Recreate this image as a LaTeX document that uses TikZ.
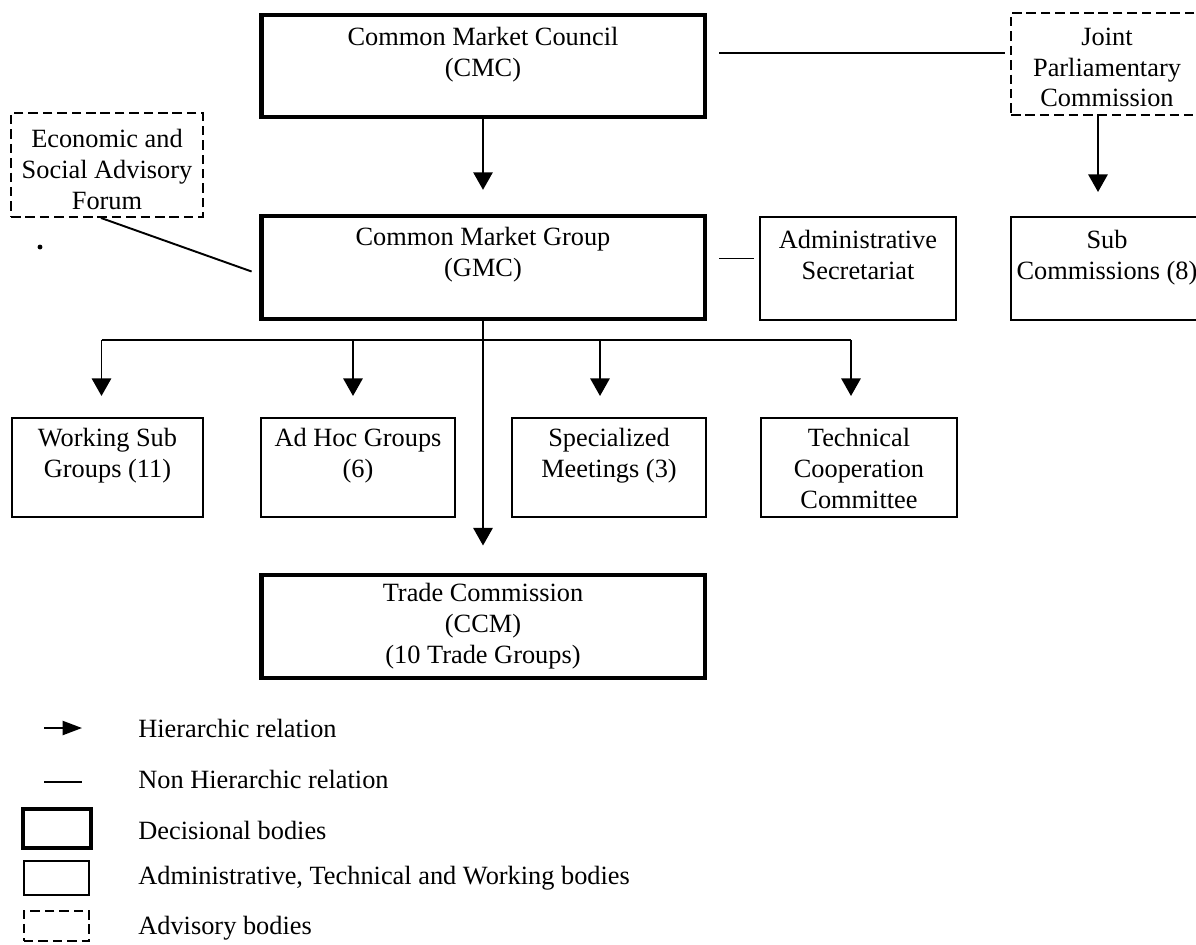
\documentclass[tikz,border=0pt]{standalone}
\usepackage{fontspec}
\setmainfont{Liberation Serif}
\usetikzlibrary{arrows.meta, positioning}

\tikzset{
  body/.style={draw, line width=1.1pt, inner sep=0pt},
  decbody/.style={body, line width=2.8pt},
  advbody/.style={body, dash pattern=on 5.4pt off 2.8pt},
  lbl/.style={inner sep=0pt, align=center, font=\fontsize{15pt}{17.6pt}\selectfont},
  hier/.style={line width=1.1pt, -{Triangle[length=10pt, width=11pt]}},
  nonhier/.style={line width=1.1pt},
}

\begin{document}
\begin{tikzpicture}[x=0.02cm, y=-0.02cm]
  \useasboundingbox (0,0) rectangle (1196,944);
  \clip (0,0) rectangle (1196,944);

  %% Decisional bodies
  \node[decbody, minimum width=8.88cm, minimum height=2.04cm] (cmc) at (483,66) {};
  \node[lbl, below=8pt of cmc.north] (cmc-t) {Common Market Council\\(CMC)};
  \node[decbody, minimum width=8.88cm, minimum height=2.06cm] (gmc) at (483,267.5) {};
  \node[lbl, below=7.5pt of gmc.north] (gmc-t) {Common Market Group\\(GMC)};
  \node[decbody, minimum width=8.88cm, minimum height=2.06cm] (ccm) at (483,626.5) {};
  \node[lbl, below=6pt of ccm.north] (ccm-t) {Trade Commission\\(CCM)\\(10 Trade Groups)};

  %% Advisory bodies
  \node[advbody, minimum width=3.84cm, minimum height=2.04cm] (jpc) at (1107,64) {};
  \node[lbl, below=8.7pt of jpc.north] (jpc-t) {Joint\\Parliamentary\\Commission};
  \node[advbody, minimum width=3.84cm, minimum height=2.08cm] (esf) at (107,165) {};
  \node[lbl, below=9.5pt of esf.north] (esf-t) {Economic and\\Social Advisory\\Forum};
  \fill (40,247) circle (1.4pt);

  %% Administrative, technical and working bodies
  \node[body, minimum width=3.92cm, minimum height=2.06cm] (sec) at (858,268.5) {};
  \node[lbl, below=8pt of sec.north] (sec-t) {Administrative\\Secretariat};
  \node[body, minimum width=3.84cm, minimum height=2.06cm] (sub) at (1107,268.5) {};
  \node[lbl, below=8pt of sub.north] (sub-t) {Sub\\Commissions (8)};
  \node[body, minimum width=3.82cm, minimum height=1.98cm] (wsg) at (107.5,467.5) {};
  \node[lbl, below=6pt of wsg.north] (wsg-t) {Working Sub\\Groups (11)};
  \node[body, minimum width=3.88cm, minimum height=1.98cm] (ahg) at (358,467.5) {};
  \node[lbl, below=6pt of ahg.north] (ahg-t) {Ad Hoc Groups\\(6)};
  \node[body, minimum width=3.88cm, minimum height=1.98cm] (smt) at (609,467.5) {};
  \node[lbl, below=6pt of smt.north] (smt-t) {Specialized\\Meetings (3)};
  \node[body, minimum width=3.92cm, minimum height=1.98cm] (tcc) at (859,467.5) {};
  \node[lbl, below=6pt of tcc.north] (tcc-t) {Technical\\Cooperation\\Committee};

  %% Relations
  \draw[hier, shorten >=13.5pt] (cmc) -- (gmc);
  \draw[hier, shorten >=15.4pt] (gmc) -- (ccm);
  \draw[hier, shorten >=13.7pt] ([shift={(-9,0)}]jpc.south) -- ([shift={(-9,0)}]sub.north);
  \draw[nonhier] ([shift={(12,-13)}]cmc.east) -- ([shift={(-5,-11)}]jpc.west);
  \draw[nonhier] ([shift={(12,-9)}]gmc.east) -- ([shift={(-5,-10)}]sec.west);
  \draw[nonhier] ([shift={(-6,0)}]esf.south) -- ([shift={(-7,4)}]gmc.west);

  \coordinate (bus) at (483,340);
  \path ([shift={(-6,0)}]wsg.north) coordinate (wsg-in)
        ([shift={(-5,0)}]ahg.north) coordinate (ahg-in)
        ([shift={(-9,0)}]smt.north) coordinate (smt-in)
        ([shift={(-8,0)}]tcc.north) coordinate (tcc-in);
  \draw[nonhier] (wsg-in |- bus) -- (tcc-in |- bus);
  \foreach \n in {wsg, ahg, smt, tcc}
    \draw[hier, shorten >=12pt] (\n-in |- bus) -- (\n-in);

  %% Legend
  \coordinate (lh-a) at (44,728);
  \coordinate (lh-b) at (82,728);
  \draw[hier, -{Triangle[length=11pt, width=8pt]}] (lh-a) -- (lh-b);
  \node[lbl, anchor=west] (lh-t) at (138,728) {Hierarchic relation};
  \coordinate (ln-a) at (44,782);
  \coordinate (ln-b) at (82,782);
  \draw[nonhier] (ln-a) -- (ln-b);
  \node[lbl, anchor=west] (ln-t) at (138,779) {Non Hierarchic relation};
  \node[decbody, minimum width=1.36cm, minimum height=0.78cm] (ld) at (57,828.5) {};
  \node[lbl, anchor=west] (ld-t) at (138,830) {Decisional bodies};
  \node[body, minimum width=1.3cm, minimum height=0.68cm] (la) at (56.5,878) {};
  \node[lbl, anchor=west] (la-t) at (138,878) {Administrative, Technical and Working bodies};
  \node[advbody, minimum width=1.3cm, minimum height=0.6cm] (lv) at (56.5,926) {};
  \node[lbl, anchor=west] (lv-t) at (138,928) {Advisory bodies};
\end{tikzpicture}
\end{document}
